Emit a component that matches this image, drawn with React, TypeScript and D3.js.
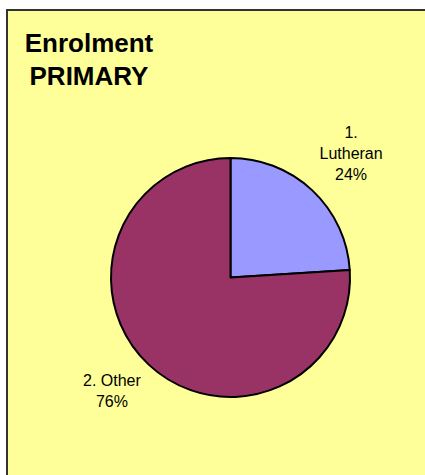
import React, { useEffect, useRef } from "react";
import * as d3 from "d3";

const categories = ["1. Lutheran", "2. Other"];
const values = [24, 76];
const labelLines = [["1.", "Lutheran"], ["2. Other"]];
const sliceColors = ["#9999FF", "#993366"];
const titleLines = ["Enrolment", "PRIMARY"];

const W = 425;
const H = 475;

export default function App() {
  const ref = useRef<SVGSVGElement>(null);

  useEffect(() => {
    const svg = d3.select(ref.current);
    svg.selectAll("*").remove();

    // chart area (extends beyond the window on the right and bottom)
    svg.append("rect").attr("x", 0).attr("y", 0).attr("width", W).attr("height", H).attr("fill", "#ffffff");
    svg.append("rect").attr("x", 7).attr("y", 10).attr("width", W).attr("height", H).attr("fill", "#FFFF99");
    svg
      .append("path")
      .attr("d", `M7,${H} L7,10 L${W},10`)
      .attr("fill", "none")
      .attr("stroke", "#333333")
      .attr("stroke-width", 2);

    // title
    const title = svg
      .append("text")
      .attr("font-family", "'Liberation Sans', Arial, sans-serif")
      .attr("font-weight", "bold")
      .attr("font-size", 26)
      .attr("fill", "#000")
      .attr("text-anchor", "middle");
    titleLines.forEach((t, i) => {
      title.append("tspan").attr("x", 89).attr("y", 51.5 + i * 33.5).text(t);
    });

    const cx = 230.5;
    const cy = 277.5;
    const r = 119.5;
    const total = d3.sum(values);
    const data = categories.map((c, i) => ({ c, v: values[i], i }));
    const pie = d3.pie<any>().value((d: any) => d.v).sort(null);
    const arcs = pie(data);
    const arc = d3.arc<any>().innerRadius(0).outerRadius(r);

    const g = svg.append("g").attr("transform", `translate(${cx},${cy})`);
    g.selectAll("path")
      .data(arcs)
      .enter()
      .append("path")
      .attr("d", arc as any)
      .attr("fill", (d: any) => sliceColors[d.data.i])
      .attr("stroke", "#000")
      .attr("stroke-width", 2)
      .attr("stroke-linejoin", "round");

    // labels
    const labelR = 130;
    const lineH = 21;
    arcs.forEach((a: any) => {
      const lines = [...labelLines[a.data.i], `${Math.round((a.data.v / total) * 100)}%`];
      const mid = (a.startAngle + a.endAngle) / 2;
      const sx = Math.sin(mid);
      const sy = -Math.cos(mid);
      const ax = labelR * sx;
      const ay = labelR * sy;
      const t = g
        .append("text")
        .attr("font-family", "'Liberation Sans', Arial, sans-serif")
        .attr("font-size", 16)
        .attr("fill", "#000")
        .attr("text-anchor", "middle");
      lines.forEach((l, k) => {
        t.append("tspan").attr("x", 0).attr("y", k * lineH).text(l);
      });
      const bb = (t.node() as SVGTextElement).getBBox();
      const bcx = ax + Math.sign(sx) * (bb.width / 2);
      const bcy = ay + Math.sign(sy) * (bb.height / 2);
      const dx = bcx - (bb.x + bb.width / 2);
      const dy = bcy - (bb.y + bb.height / 2);
      t.attr("transform", `translate(${dx},${dy})`);
    });
  }, []);

  return (
    <svg
      ref={ref}
      width={W}
      height={H}
      style={{ position: "absolute", left: 0, top: 0, display: "block", overflow: "hidden" }}
    />
  );
}
